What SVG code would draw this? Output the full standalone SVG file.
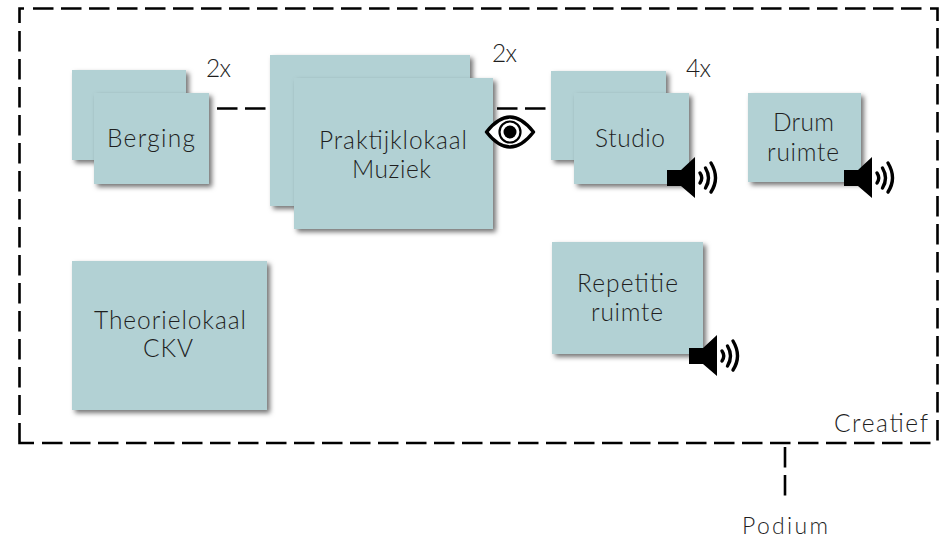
<svg xmlns="http://www.w3.org/2000/svg" width="941" height="539" viewBox="0 0 941 539">
<style>
.n{fill:#b2d1d4;filter:url(#sh)}
.t{font-family:"Lato","Liberation Sans",sans-serif;font-size:24.5px;font-weight:300;fill:#1f1f1f}
.c{fill:none;stroke:#000;stroke-width:2.6}
.d{fill:none;stroke:#000;stroke-width:2.6;stroke-dasharray:20.5 7.5}
</style>
<defs>
<filter id="sh" x="-15%" y="-15%" width="130%" height="130%"><feDropShadow dx="3" dy="3" stdDeviation="2.500" flood-color="#000" flood-opacity=".55"/></filter>
<symbol id="spk" width="52" height="44" viewBox="0 0 52 44" overflow="visible">
<path d="M0 13H14L28 0V41L14 29H0Z" fill="#000"/>
<g fill="none" stroke="#000" stroke-linecap="round" stroke-width="3.400">
<path d="M33 16Q36.500 21 33 26"/>
<path d="M38.500 11Q44.500 21 38.500 31"/>
<path d="M44 6Q53 21 44 35"/>
</g>
</symbol>
</defs>
<g id="connectors">
<path class="c" d="M19.500 23V8.500H24M930 8.500H937.500V21M19.500 423V443H34"/>
<path class="d" d="M33 8.500H923M937.500 28V441M42 443H933M19.500 31V415"/>
<path class="d" d="M217 108.500H267M497 108.500H547M785 447V497"/>
</g>
<g id="berging">
<rect class="n" x="72" y="70" width="114" height="90"/>
<rect class="n" x="94" y="93" width="115" height="91"/>
<text class="t" x="107" y="147" textLength="88">Berging</text>
</g>
<g id="praktijklokaal">
<rect class="n" x="270" y="55" width="200" height="151"/>
<rect class="n" x="294" y="78" width="199" height="151"/>
<text class="t" x="319" y="149" textLength="148">Praktijklokaal</text>
<text class="t" x="352" y="178" textLength="79">Muziek</text>
</g>
<g id="studio">
<rect class="n" x="551" y="71" width="115" height="89"/>
<rect class="n" x="574" y="93" width="115" height="91"/>
<text class="t" x="595" y="147" textLength="70">Studio</text>
<use href="#spk" x="667" y="157"/>
</g>
<g id="drum">
<rect class="n" x="748" y="93" width="113" height="89"/>
<text class="t" x="773" y="131" textLength="61">Drum</text>
<text class="t" x="767" y="161" textLength="72">ruimte</text>
<use href="#spk" x="844" y="157"/>
</g>
<g id="repetitie">
<rect class="n" x="552" y="242" width="151" height="112"/>
<text class="t" x="577" y="292" textLength="101">Repetitie</text>
<text class="t" x="591" y="321" textLength="72">ruimte</text>
<use href="#spk" x="689" y="335"/>
</g>
<g id="theorielokaal">
<rect class="n" x="72" y="261" width="195" height="149"/>
<text class="t" x="94" y="329" textLength="152">Theorielokaal</text>
<text class="t" x="143" y="357" textLength="50">CKV</text>
</g>
<g id="eye">
<path d="M486.500 132Q510 102 533.500 132Q510 162 486.500 132Z" fill="#fff" stroke="#000" stroke-width="3.400" stroke-linejoin="round"/>
<circle cx="510" cy="132" r="10.500" fill="#fff" stroke="#000" stroke-width="2.200"/>
<circle cx="510" cy="132" r="6.500" fill="#000"/>
</g>
<g id="labels">
<text class="t" x="206" y="77" textLength="25">2x</text>
<text class="t" x="492" y="62" textLength="25">2x</text>
<text class="t" x="686" y="77" textLength="25">4x</text>
<text class="t" x="834" y="432" textLength="94">Creatief</text>
<text class="t" x="742" y="534" textLength="86" style="font-size:23px">Podium</text>
</g>
</svg>
